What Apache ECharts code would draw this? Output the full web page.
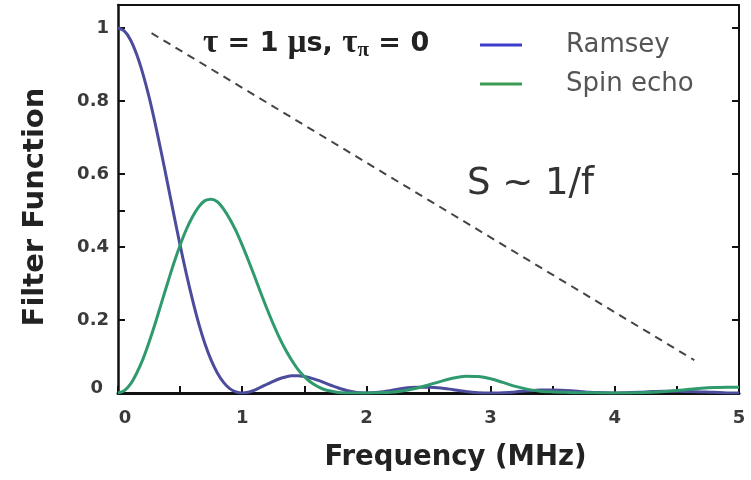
<!DOCTYPE html>
<html>
<head>
<meta charset="utf-8">
<script src="https://cdn.jsdelivr.net/npm/echarts@6/dist/echarts.min.js"></script>
<style>
  html, body { margin: 0; padding: 0; background: #fff; }
  #chart { width: 751px; height: 480px; }
</style>
</head>
<body>
<div id="chart"></div>
<script>
// Frequency samples (MHz): fine spacing over the main lobes, coarser beyond 2 MHz
var freq = [0, 0.05, 0.1, 0.15, 0.2, 0.25, 0.3, 0.35, 0.4, 0.45,
            0.5, 0.55, 0.6, 0.65, 0.7, 0.75, 0.8, 0.85, 0.9, 0.95,
            1.0, 1.05, 1.1, 1.15, 1.2, 1.25, 1.3, 1.35, 1.4, 1.45,
            1.5, 1.55, 1.6, 1.65, 1.7, 1.75, 1.8, 1.85, 1.9, 1.95,
            2.0, 2.1, 2.2, 2.3, 2.4, 2.5, 2.6, 2.7, 2.8, 2.9,
            3.0, 3.1, 3.2, 3.3, 3.4, 3.5, 3.6, 3.7, 3.8, 3.9,
            4.0, 4.1, 4.2, 4.3, 4.4, 4.5, 4.6, 4.7, 4.8, 4.9, 5.0];

// Ramsey filter function
var ramsey = [1.000, 0.992, 0.968, 0.928, 0.875, 0.811, 0.737, 0.657, 0.573, 0.488,
              0.405, 0.327, 0.255, 0.190, 0.135, 0.090, 0.055, 0.029, 0.012, 0.003,
              0.000, 0.002, 0.008, 0.016, 0.024, 0.032, 0.039, 0.044, 0.047, 0.047,
              0.045, 0.041, 0.036, 0.030, 0.023, 0.017, 0.011, 0.006, 0.003, 0.001,
              0.000, 0.002, 0.007, 0.013, 0.016, 0.016, 0.014, 0.009, 0.004, 0.001,
              0.000, 0.001, 0.003, 0.006, 0.008, 0.008, 0.007, 0.005, 0.002, 0.001,
              0.000, 0.001, 0.002, 0.004, 0.005, 0.005, 0.004, 0.003, 0.002, 0.000, 0.000];

// Spin echo filter function
var spinEcho = [0.000, 0.006, 0.024, 0.054, 0.092, 0.139, 0.191, 0.247, 0.302, 0.356,
                0.405, 0.448, 0.483, 0.510, 0.527, 0.531, 0.524, 0.504, 0.477, 0.444,
                0.405, 0.363, 0.319, 0.274, 0.230, 0.189, 0.151, 0.118, 0.089, 0.064,
                0.045, 0.030, 0.019, 0.011, 0.006, 0.003, 0.001, 0.000, 0.000, 0.000,
                0.000, 0.001, 0.002, 0.006, 0.013, 0.022, 0.032, 0.041, 0.046, 0.045,
                0.039, 0.029, 0.018, 0.010, 0.005, 0.003, 0.002, 0.001, 0.001, 0.000,
                0.000, 0.000, 0.001, 0.002, 0.004, 0.007, 0.010, 0.013, 0.015, 0.016, 0.016];

// 1/f noise guide (start and end points)
var noiseGuideX = [0.27, 4.64];
var noiseGuideY = [0.986, 0.09];

// Axis ticks and labels
var xTicks = [0, 0.5, 1, 1.5, 2, 2.5, 3, 3.5, 4, 4.5, 5];
var xLabels = [0, 1, 2, 3, 4, 5];
var yTicksLeft = [0, 0.2, 0.4, 0.5, 0.6, 0.8, 1];
var yLabels = [0, 0.2, 0.4, 0.6, 0.8, 1];

var seriesNames = ['Ramsey', 'Spin echo'];

function pairs(xs, ys) {
  return xs.map(function (x, i) { return [x, ys[i]]; });
}

var chart = echarts.init(document.getElementById('chart'), null, { renderer: 'canvas' });

var sans = '"DejaVu Sans", Verdana, sans-serif';
var serif = '"Liberation Serif", "Times New Roman", serif';
var tickFont = { fontFamily: sans, fontWeight: 'bold', fontSize: 18, color: '#3a3a3a' };

chart.setOption({
  animation: false,
  backgroundColor: '#ffffff',
  grid: { left: 118, right: 12, top: 5, bottom: 87 },
  title: [
    {
      left: 198, top: 21,
      text: '{g|τ}{b| = 1 }{g|μ}{b|s, }{g|τ}{sub|π}{b| = 0}',
      textStyle: {
        rich: {
          g: { fontFamily: serif, fontSize: 33, color: '#222' },
          b: { fontFamily: sans, fontWeight: 'bold', fontSize: 27, color: '#222' },
          sub: { fontFamily: serif, fontSize: 21, color: '#222', padding: [14, 0, 0, 0] }
        }
      }
    },
    {
      left: 462, top: 161,
      text: 'S ~ 1/f',
      textStyle: { fontFamily: sans, fontWeight: 'normal', fontSize: 37, color: '#333' }
    }
  ],
  legend: {
    orient: 'vertical',
    left: 480, top: 30,
    padding: 0,
    itemGap: 9,
    itemWidth: 42,
    itemHeight: 3,
    icon: 'rect',
    data: [
      { name: seriesNames[0], itemStyle: { color: '#3d3dcc' } },
      { name: seriesNames[1], itemStyle: { color: '#3c9a52' } }
    ],
    textStyle: {
      fontFamily: sans, fontSize: 26, color: '#555',
      lineHeight: 30, padding: [0, 0, 0, 39]
    }
  },
  xAxis: [
    {
      type: 'value', min: 0, max: 5,
      name: 'Frequency (MHz)', nameLocation: 'middle', nameGap: 51,
      nameTextStyle: { fontFamily: sans, fontWeight: 'bold', fontSize: 27.5, color: '#222', padding: [0, 0, 0, 54] },
      axisLine: { onZero: false, lineStyle: { color: '#111', width: 3 } },
      axisTick: { inside: true, length: 7, lineStyle: { color: '#111', width: 2 }, customValues: xTicks },
      axisLabel: Object.assign({
        customValues: xLabels, margin: 16,
        formatter: function (v) { return v === 0 ? '{z|0}' : String(v); },
        rich: { z: Object.assign({ padding: [0, 0, 0, 14] }, tickFont) }
      }, tickFont),
      splitLine: { show: false }
    },
    {
      type: 'value', position: 'top', min: 0, max: 5,
      axisLine: { onZero: false, lineStyle: { color: '#111', width: 2 } },
      axisTick: { show: false },
      axisLabel: { show: false },
      splitLine: { show: false }
    }
  ],
  yAxis: [
    {
      type: 'value', min: 0, max: 1.063,
      name: 'Filter Function', nameLocation: 'middle', nameGap: 68, nameRotate: 90,
      nameTextStyle: { fontFamily: sans, fontWeight: 'bold', fontSize: 29, color: '#222', padding: [0, 16, 0, 0] },
      axisLine: { onZero: false, lineStyle: { color: '#111', width: 2.5 } },
      axisTick: { inside: true, length: 7, lineStyle: { color: '#111', width: 2 }, customValues: yTicksLeft },
      axisLabel: Object.assign({
        customValues: yLabels, margin: 9,
        formatter: function (v) { return v === 0 ? '{z|0}' : String(v); },
        rich: { z: Object.assign({ padding: [0, 6, 10, 0] }, tickFont) }
      }, tickFont),
      splitLine: { show: false }
    },
    {
      type: 'value', position: 'right', min: 0, max: 1.063,
      axisLine: { onZero: false, lineStyle: { color: '#111', width: 2 } },
      axisTick: { inside: true, length: 7, lineStyle: { color: '#111', width: 2 }, customValues: yLabels },
      axisLabel: { show: false },
      splitLine: { show: false }
    }
  ],
  series: [
    {
      name: '1/f guide', type: 'line', silent: true,
      data: pairs(noiseGuideX, noiseGuideY),
      symbol: 'none',
      lineStyle: { color: '#444', width: 2, type: [8, 6] }
    },
    {
      name: seriesNames[0], type: 'line', smooth: 0.3,
      data: pairs(freq, ramsey),
      symbol: 'none',
      lineStyle: { color: '#4c4c9c', width: 3 },
      itemStyle: { color: '#4c4c9c' }
    },
    {
      name: seriesNames[1], type: 'line', smooth: 0.3,
      data: pairs(freq, spinEcho),
      symbol: 'none',
      lineStyle: { color: '#2e9a6e', width: 3 },
      itemStyle: { color: '#2e9a6e' }
    }
  ]
});
</script>
</body>
</html>
